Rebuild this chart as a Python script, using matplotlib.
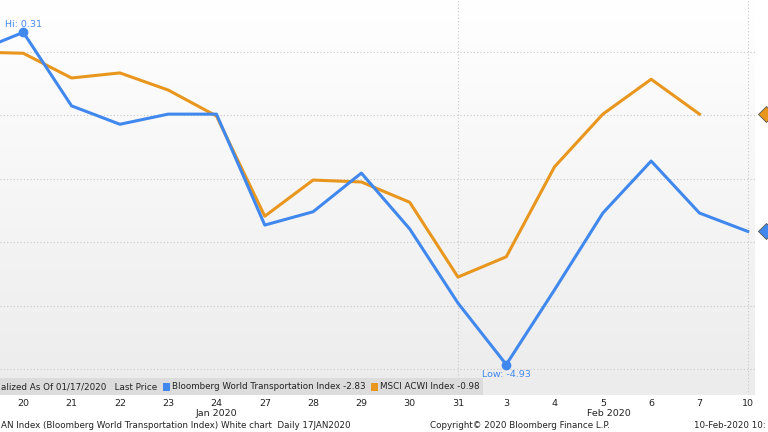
import numpy as np
import matplotlib
matplotlib.use("Agg")
import matplotlib.pyplot as plt

dates = ["17", "20", "21", "22", "23", "24", "27", "28", "29", "30", "31", "3", "4", "5", "6", "7", "10"]
blue = [0.0, 0.31, -0.85, -1.14, -0.98, -0.98, -2.73, -2.52, -1.91, -2.79, -3.96, -4.93, -3.75, -2.54, -1.72, -2.54, -2.83]
orange = [0.0, -0.02, -0.41, -0.33, -0.60, -1.01, -2.59, -2.02, -2.05, -2.37, -3.55, -3.23, -1.81, -0.98, -0.43, -0.98]

BLUE = "#4088ee"
ORANGE = "#e8961e"
fs = 6.8
fig = plt.figure(figsize=(7.68, 4.32), dpi=100)
W, H = 768, 432
ax = fig.add_axes([0, 1 - 395 / H, 755 / W, 395 / H])
ax.set_zorder(1)
x = np.arange(len(dates))
ax.set_xlim(0.518, 16.15)
ax.set_ylim(-5.41, 0.82)
grad = np.linspace(0, 1, 256).reshape(-1, 1)
ax.imshow(grad, aspect="auto", cmap=matplotlib.colors.LinearSegmentedColormap.from_list("g", ["#ececec", "#ffffff"]),
          extent=[0.518, 16.15, -5.41, 0.82], zorder=0, origin="lower")
for v in range(0, -6, -1):
    ax.axhline(v, color="#c8c8c8", ls=(0, (1, 2)), lw=0.8, zorder=1)
for xv in [10, 16]:
    ax.axvline(xv, color="#c8c8c8", ls=(0, (1, 2)), lw=0.8, zorder=1)
ax.plot(x[:len(orange)], orange, color=ORANGE, lw=2.2, zorder=3)
ax.plot(x, blue, color=BLUE, lw=2.2, zorder=4)
ax.plot([1], [blue[1]], "o", color=BLUE, ms=6, zorder=5)
ax.plot([11], [blue[11]], "o", color=BLUE, ms=6, zorder=5)
ax.text(0.62, blue[1] + 0.06, "Hi: 0.31", color=BLUE, fontsize=fs, ha="left", va="bottom")
ax.text(11, blue[11] - 0.08, "Low: -4.93", color=BLUE, fontsize=fs, ha="center", va="top")
for s, c in [(blue[-1], BLUE), (orange[-1], ORANGE)]:
    ax.plot([16.37], [s], "D", color=c, mec="#555555", mew=0.6, ms=8, clip_on=False, zorder=6)
for sp in ax.spines.values():
    sp.set_visible(False)
ax.set_xticks([])
ax.set_yticks([])

# legend band
band = fig.add_axes([0, 1 - 395 / H, 483 / W, 17 / H])
band.set_zorder(2)
band.patch.set_facecolor("#dcdcdc")
band.patch.set_alpha(1)
band.set_xticks([]); band.set_yticks([])
for sp in band.spines.values():
    sp.set_visible(False)
band.set_xlim(0, 483); band.set_ylim(0, 17)
lfs = 6.3
t = dict(fontsize=lfs, va="center", color="#222222")
fig.canvas.draw()
r = fig.canvas.get_renderer()
cur = 1
for kind, val in [("t", "alized As Of 01/17/2020   Last Price  "), ("b", BLUE),
                  ("t", "Bloomberg World Transportation Index -2.83  "), ("b", ORANGE),
                  ("t", "MSCI ACWI Index -0.98")]:
    if kind == "b":
        band.add_patch(plt.Rectangle((cur, 4.5), 7, 8, facecolor=val))
        cur += 9
    else:
        tx = band.text(cur, 8.5, val, **t)
        cur += tx.get_window_extent(r).width

# tick labels
for i, d in enumerate(dates):
    if i == 0:
        continue
    px = -25 + 48.3 * i
    fig.text(px / W, 1 - 403 / H, d, fontsize=fs, ha="center", va="center", color="#222222")
fig.text(216 / W, 1 - 413 / H, "Jan 2020", fontsize=fs, ha="center", va="center", color="#222222")
fig.text(609 / W, 1 - 413 / H, "Feb 2020", fontsize=fs, ha="center", va="center", color="#222222")
fy = 1 - 426 / H
fig.text(1 / W, fy, "AN Index (Bloomberg World Transportation Index) White chart  Daily 17JAN2020", fontsize=6.3, va="center", color="#222222")
fig.text(430 / W, fy, "Copyright\u00a9 2020 Bloomberg Finance L.P.", fontsize=6.3, va="center", color="#222222")
fig.text(766 / W, fy, "10-Feb-2020 10:", fontsize=6.3, ha="right", va="center", color="#222222")
fig.savefig("out.png", dpi=100)
